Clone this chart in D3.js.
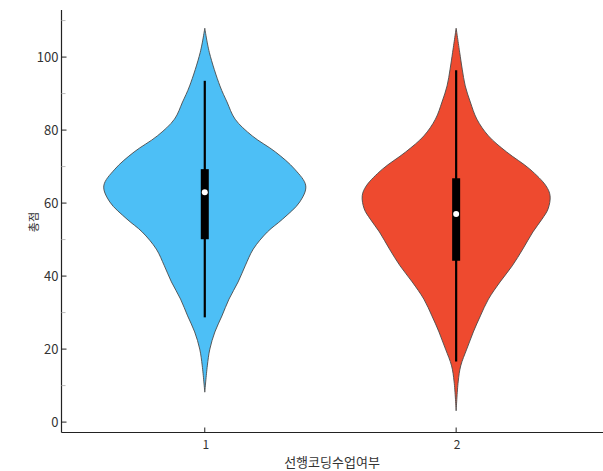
<!DOCTYPE html>
<html>
<head>
<meta charset="utf-8">
<script src="https://cdn.jsdelivr.net/npm/d3@7"></script>
<style>
  body { margin: 0; background: #fff; }
  svg { display: block; font-family: "Noto Sans CJK KR", "DejaVu Sans", sans-serif; }
</style>
</head>
<body>
<svg id="chart" width="603" height="471"></svg>
<script>
// groups and colours
const groups = [1, 2];
const colors = ["#4dbff6", "#ee4a2f"];

// violin outlines: score level and relative density
const levels1 =  [107.9, 101.3, 92.1, 87.7, 83.0, 78.4, 74.0, 69.3, 64.7, 60.3, 55.6, 52.1, 47.4, 42.8, 38.4, 33.7, 29.1, 24.7, 20.0, 15.4, 8.2];
const density1 = [0, 0.045, 0.15, 0.22, 0.30, 0.47, 0.70, 0.89, 1.00, 0.94, 0.77, 0.62, 0.48, 0.40, 0.33, 0.24, 0.17, 0.10, 0.05, 0.025, 0];
const levels2 =  [107.9, 101.3, 96.7, 92.1, 87.7, 83.0, 78.4, 74.0, 69.3, 64.7, 62.0, 58.4, 55.6, 52.1, 47.4, 42.8, 38.4, 33.7, 29.1, 24.7, 20.0, 15.4, 11.0, 3.1];
const density2 = [0, 0.035, 0.06, 0.09, 0.14, 0.205, 0.32, 0.50, 0.73, 0.89, 0.93, 0.91, 0.85, 0.76, 0.66, 0.555, 0.435, 0.32, 0.24, 0.17, 0.105, 0.045, 0.02, 0];

// box stats: whisker low, q1, median, q3, whisker high
const whiskLo = [28.7, 16.6];
const q1      = [50.1, 44.2];
const median  = [63.0, 57.0];
const q3      = [69.3, 66.8];
const whiskHi = [93.5, 96.4];

const yTicks = [0, 20, 40, 60, 80, 100];
const yMinor = [10, 30, 50, 70, 90, 110];

const svg = d3.select("#chart");
const mLeft = 61.5, mRight = 612, mTop = 10, mBottom = 432.5;

const x = d3.scaleLinear().domain([0.43, 2.62]).range([mLeft, mRight]);
const y = d3.scaleLinear().domain([-2.85, 112.9]).range([mBottom, mTop]);
const w = d3.scaleLinear().domain([0, 1]).range([0, 101]);

const series = [
  levels1.map((v, i) => ({v: v, d: density1[i]})),
  levels2.map((v, i) => ({v: v, d: density2[i]}))
];

// violins
series.forEach((pts, i) => {
  const cx = x(groups[i]);
  const area = d3.area()
    .y(d => y(d.v))
    .x0(d => cx - w(d.d))
    .x1(d => cx + w(d.d))
    .curve(d3.curveCatmullRom.alpha(0.5));
  svg.append("path")
    .datum(pts)
    .attr("d", area)
    .attr("fill", colors[i])
    .attr("stroke", "#4a4a4a")
    .attr("stroke-width", 0.9);
});

// inner box plots
groups.forEach((g, i) => {
  const cx = x(g);
  svg.append("line")
    .attr("x1", cx).attr("x2", cx)
    .attr("y1", y(whiskLo[i])).attr("y2", y(whiskHi[i]))
    .attr("stroke", "#000").attr("stroke-width", 2.2);
  svg.append("rect")
    .attr("x", cx - 4).attr("width", 8)
    .attr("y", y(q3[i])).attr("height", y(q1[i]) - y(q3[i]))
    .attr("fill", "#000");
  svg.append("circle")
    .attr("cx", cx).attr("cy", y(median[i])).attr("r", 3)
    .attr("fill", "#fff");
});

// axes
const axis = svg.append("g").attr("stroke", "#222").attr("stroke-width", 1.2);
axis.append("line").attr("x1", mLeft).attr("x2", mLeft).attr("y1", mTop).attr("y2", mBottom);
axis.append("line").attr("x1", mLeft).attr("x2", mRight).attr("y1", mBottom).attr("y2", mBottom);

svg.selectAll(".ytick").data(yTicks).join("line")
  .attr("x1", mLeft).attr("x2", mLeft + 5)
  .attr("y1", d => y(d)).attr("y2", d => y(d))
  .attr("stroke", "#222").attr("stroke-width", 1);
svg.selectAll(".yminor").data(yMinor).join("line")
  .attr("x1", mLeft).attr("x2", mLeft + 4)
  .attr("y1", d => y(d)).attr("y2", d => y(d))
  .attr("stroke", "#bbb").attr("stroke-width", 1);
svg.selectAll(".ylab").data(yTicks).join("text")
  .attr("x", mLeft - 3).attr("y", d => y(d))
  .attr("dy", "0.35em")
  .attr("text-anchor", "end")
  .attr("font-size", 13)
  .attr("fill", "#333")
  .text(d => d);

svg.selectAll(".xtick").data(groups).join("line")
  .attr("x1", d => x(d)).attr("x2", d => x(d))
  .attr("y1", mBottom).attr("y2", mBottom - 5)
  .attr("stroke", "#222").attr("stroke-width", 1);
svg.selectAll(".xlab").data(groups).join("text")
  .attr("x", d => x(d) + 1).attr("y", 449)
  .attr("text-anchor", "middle")
  .attr("font-size", 12)
  .attr("fill", "#333")
  .text(d => d);

svg.append("text")
  .attr("x", 332).attr("y", 467)
  .attr("text-anchor", "middle")
  .attr("font-size", 13)
  .attr("fill", "#333")
  .text("선행코딩수업여부");

svg.append("text")
  .attr("transform", "translate(38,222) rotate(-90)")
  .attr("text-anchor", "middle")
  .attr("font-size", 11)
  .attr("fill", "#333")
  .text("총점");
</script>
</body>
</html>
